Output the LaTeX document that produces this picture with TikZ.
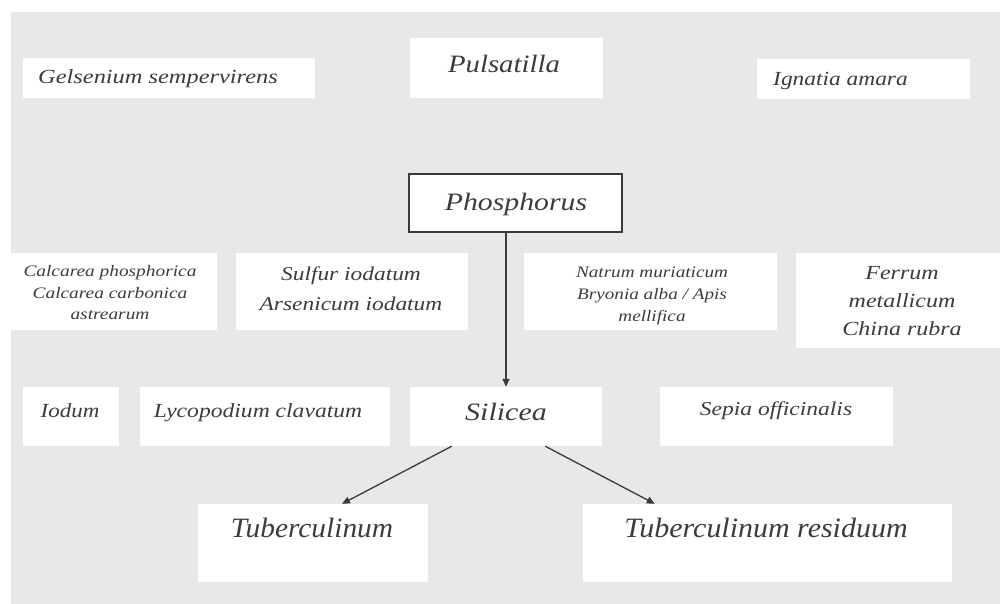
\documentclass[tikz,border=0pt]{standalone}
\usepackage{fontspec}
\setmainfont{Liberation Serif}
\usepackage{graphicx}
\usetikzlibrary{arrows.meta}
\definecolor{panel}{HTML}{E8E8E8}
\definecolor{ink}{HTML}{3C3C3C}
\definecolor{arrowc}{HTML}{3A3A3A}
\newcommand\tx[4]{\scalebox{#1}[1]{\fontsize{#2}{#3}\selectfont\itshape\begin{tabular}{@{}c@{}}#4\end{tabular}}}
\tikzset{
  bx/.style={fill=white, draw=none, inner sep=0pt, minimum width=#1},
  bxh/.style={minimum height=#1},
  lb/.style={inner sep=0pt, text=ink},
  bordered/.style={draw=arrowc, line width=1.6pt},
  conn/.style={draw=arrowc, line width=1.5pt, -{Triangle[width=7pt,length=8pt]}},
}
\begin{document}
\begin{tikzpicture}[x=1pt,y=-1pt]
\useasboundingbox (0,0) rectangle (1000,604);
\fill[white] (0,0) rectangle (1000,604);
\fill[panel] (11,12) rectangle (1000,604);

% boxes
\node[bx=292pt, bxh=40pt] (gel) at (169,78) {};
\node[bx=193pt, bxh=60pt] (pul) at (506.5,68) {};
\node[bx=213pt, bxh=40pt] (ign) at (863.5,79) {};
\node[bx=213pt, bxh=58pt, bordered] (pho) at (515.5,203) {};
\node[bx=206pt, bxh=77pt] (cal) at (114,291.5) {};
\node[bx=232pt, bxh=77pt] (sul) at (352,291.5) {};
\node[bx=253pt, bxh=77pt] (nat) at (650.5,291.5) {};
\node[bx=204pt, bxh=95pt] (fer) at (898,300.5) {};
\node[bx=96pt, bxh=59pt] (iod) at (71,416.5) {};
\node[bx=250pt, bxh=59pt] (lyc) at (265,416.5) {};
\node[bx=192pt, bxh=59pt] (sil) at (506,416.5) {};
\node[bx=233pt, bxh=59pt] (sep) at (776.5,416.5) {};
\node[bx=230pt, bxh=78pt] (tub) at (313,543) {};
\node[bx=369pt, bxh=78pt] (tres) at (767.5,543) {};

% labels
\node[lb, anchor=west] (gel-t) at (38,79) {\tx{1.22}{20}{24}{Gelsenium sempervirens}};
\node[lb] (pul-t) at (504,67) {\tx{1.15}{25}{30}{Pulsatilla}};
\node[lb, anchor=west] (ign-t) at (773,81) {\tx{1.17}{20}{24}{Ignatia amara}};
\node[lb] (pho-t) at (516,204) {\tx{1.19}{25}{30}{Phosphorus}};
\node[lb] (cal-t) at (110,294) {\tx{1.21}{16}{21.5}{Calcarea phosphorica\\Calcarea carbonica\\astrearum}};
\node[lb] (sul-t) at (351,289) {\tx{1.2}{19.5}{30}{Sulfur iodatum\\Arsenicum iodatum}};
\node[lb] (nat-t) at (652,295) {\tx{1.2}{16}{22}{Natrum muriaticum\\Bryonia alba / Apis\\mellifica}};
\node[lb] (fer-t) at (902,302) {\tx{1.2}{20}{28}{Ferrum\\metallicum\\China rubra}};
\node[lb] (iod-t) at (70,413) {\tx{1.15}{20}{24}{Iodum}};
\node[lb] (lyc-t) at (258,413) {\tx{1.18}{20}{24}{Lycopodium clavatum}};
\node[lb] (sil-t) at (506,414) {\tx{1.2}{25}{30}{Silicea}};
\node[lb] (sep-t) at (776,411) {\tx{1.2}{19.6}{24}{Sepia officinalis}};
\node[lb] (tub-t) at (312,531) {\tx{1.05}{28}{32}{Tuberculinum}};
\node[lb] (tres-t) at (766,531) {\tx{1.07}{28}{32}{Tuberculinum residuum}};

% connectors
\draw[conn] (sil.north |- pho.south) -- (sil.north);
\draw[conn, line width=1.3pt] ([xshift=42pt]sil.south west) -- ([xshift=29pt]tub.north);
\draw[conn, line width=1.3pt] ([xshift=-57pt]sil.south east) -- ([xshift=72pt]tres.north west);
\end{tikzpicture}
\end{document}
